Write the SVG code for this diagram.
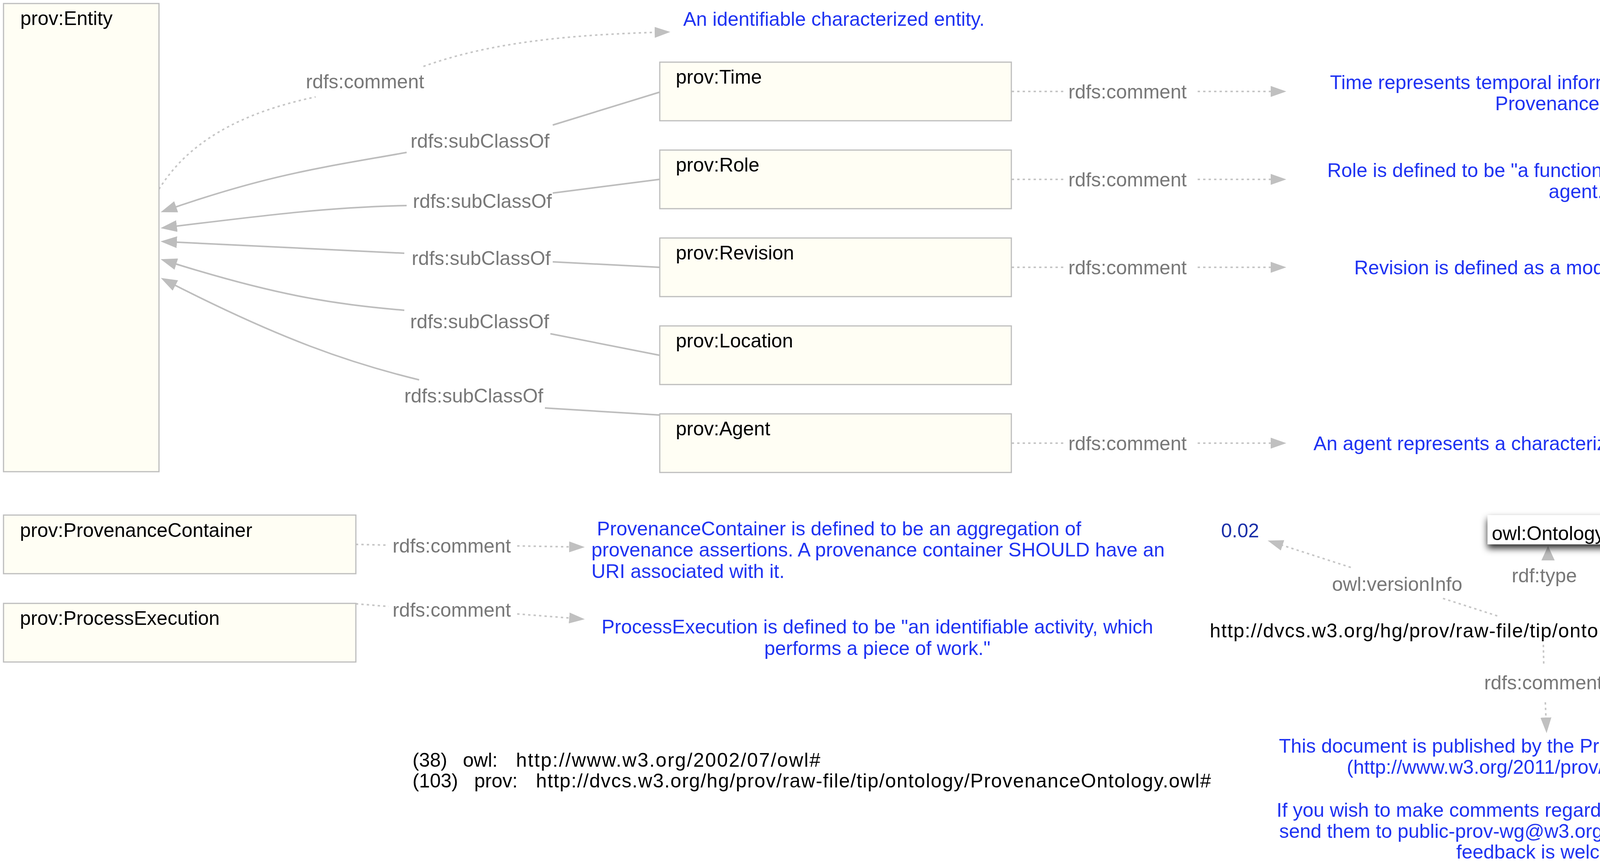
<svg xmlns="http://www.w3.org/2000/svg" width="4804" height="2216" viewBox="0 0 4804 2216">
<style>
text{font-family:"Liberation Sans",Arial,sans-serif;font-size:50px}
.box{fill:#fffef4;stroke:#bdbdbd;stroke-width:3}
.lbl{fill:#000}
.edge{fill:none;stroke:#bdbdbd;stroke-width:4}
.dot{fill:none;stroke:#c6c6c6;stroke-width:4;stroke-dasharray:6 8}
.elbl{fill:#787878}
.cmt{fill:#1f33f2}
.mid{text-anchor:middle}
</style>
<defs>
<marker id="ah" viewBox="0 0 42 30" refX="36" refY="15" markerWidth="42" markerHeight="30" markerUnits="userSpaceOnUse" orient="auto">
<path d="M0,0 L42,15 L0,30 z" fill="#bdbdbd"/>
</marker>
<marker id="ahd" viewBox="0 0 40 28" refX="34" refY="14" markerWidth="40" markerHeight="28" markerUnits="userSpaceOnUse" orient="auto">
<path d="M0,0 L40,14 L0,28 z" fill="#c0c0c0"/>
</marker>
<filter id="sh" x="-20%" y="-40%" width="140%" height="200%">
<feDropShadow dx="0" dy="10" stdDeviation="9" flood-color="#000" flood-opacity="0.85"/>
</filter>
<filter id="glow" x="-200%" y="-100%" width="500%" height="300%">
<feDropShadow dx="0" dy="6" stdDeviation="8" flood-color="#000" flood-opacity="0.35"/>
</filter>
</defs>
<rect width="4804" height="2216" fill="#fff"/>

<g id="connectors">
<path class="edge" d="M1688,236 L1415,320"/>
<path class="edge" d="M1041,390 C830,428 690,445 417,541" marker-end="url(#ah)"/>
<text class="elbl" x="1051" y="378">rdfs:subClassOf</text>
<path class="edge" d="M1688,459 L1415,494"/>
<path class="edge" d="M1041,526 C850,530 700,548 417,583" marker-end="url(#ah)"/>
<text class="elbl" x="1057" y="532">rdfs:subClassOf</text>
<path class="edge" d="M1688,684 L1415,670"/>
<path class="edge" d="M1035,648 L417,618" marker-end="url(#ah)"/>
<text class="elbl" x="1054" y="678">rdfs:subClassOf</text>
<path class="edge" d="M1688,909 L1409,854"/>
<path class="edge" d="M1035,794 C850,778 700,755 417,665" marker-end="url(#ah)"/>
<text class="elbl" x="1050" y="840">rdfs:subClassOf</text>
<path class="edge" d="M1688,1062 L1395,1044"/>
<path class="edge" d="M1073,972 C900,930 720,870 417,714" marker-end="url(#ah)"/>
<text class="elbl" x="1035" y="1030">rdfs:subClassOf</text>

<path class="dot" d="M407,484 C460,400 560,300 808,248"/>
<path class="dot" d="M1084,170 C1250,110 1450,88 1710,82" marker-end="url(#ahd)"/>
<text class="elbl" x="783" y="226">rdfs:comment</text>

<path class="dot" d="M2590,234 L2722,234"/>
<path class="dot" d="M3066,234 L3287,234" marker-end="url(#ahd)"/>
<text class="elbl" x="2735" y="252">rdfs:comment</text>
<path class="dot" d="M2590,459 L2722,459"/>
<path class="dot" d="M3066,459 L3287,459" marker-end="url(#ahd)"/>
<text class="elbl" x="2735" y="477">rdfs:comment</text>
<path class="dot" d="M2590,684 L2722,684"/>
<path class="dot" d="M3066,684 L3287,684" marker-end="url(#ahd)"/>
<text class="elbl" x="2735" y="702">rdfs:comment</text>
<path class="dot" d="M2590,1134 L2722,1134"/>
<path class="dot" d="M3066,1134 L3287,1134" marker-end="url(#ahd)"/>
<text class="elbl" x="2735" y="1152">rdfs:comment</text>

<path class="dot" d="M911,1393 L995,1395"/>
<path class="dot" d="M1324,1397 L1491,1400" marker-end="url(#ahd)"/>
<text class="elbl" x="1005" y="1414">rdfs:comment</text>
<path class="dot" d="M911,1545 L995,1552"/>
<path class="dot" d="M1324,1571 L1491,1584" marker-end="url(#ahd)"/>
<text class="elbl" x="1005" y="1578">rdfs:comment</text>

<path class="dot" d="M3833,1576 L3690,1530"/>
<path class="dot" d="M3458,1452 L3251,1385" marker-end="url(#ahd)"/>
<text class="elbl" x="3410" y="1512">owl:versionInfo</text>

<g filter="url(#glow)">
<path d="M3955,1523 L3955,1538" stroke="#bdbdbd" stroke-width="9" stroke-linecap="round" fill="none"/>
</g>
<path d="M3963,1397 L3980,1434 L3946,1434 z" fill="#bdbdbd"/>
<rect x="3860" y="1434" width="192" height="74" fill="#fff"/>
<text class="elbl" x="3870" y="1490">rdf:type</text>

<path class="dot" d="M3951,1650 L3952,1703"/>
<path class="dot" d="M3956,1797 L3959,1870" marker-end="url(#ahd)"/>
<text class="elbl mid" x="3951" y="1764">rdfs:comment</text>
</g>

<g id="node-entity">
<rect class="box" x="9" y="9" width="398" height="1198"/>
<text class="lbl" x="52" y="64">prov:Entity</text>
</g>
<g id="node-time">
<rect class="box" x="1689" y="159" width="900" height="150"/>
<text class="lbl" x="1730" y="214">prov:Time</text>
</g>
<g id="node-role">
<rect class="box" x="1689" y="384" width="900" height="150"/>
<text class="lbl" x="1730" y="439">prov:Role</text>
</g>
<g id="node-revision">
<rect class="box" x="1689" y="609" width="900" height="150"/>
<text class="lbl" x="1730" y="664">prov:Revision</text>
</g>
<g id="node-location">
<rect class="box" x="1689" y="834" width="900" height="150"/>
<text class="lbl" x="1730" y="889">prov:Location</text>
</g>
<g id="node-agent">
<rect class="box" x="1689" y="1059" width="900" height="150"/>
<text class="lbl" x="1730" y="1114">prov:Agent</text>
</g>
<g id="node-provcontainer">
<rect class="box" x="9" y="1318" width="902" height="150"/>
<text class="lbl" x="51" y="1374">prov:ProvenanceContainer</text>
</g>
<g id="node-procexec">
<rect class="box" x="9" y="1544" width="902" height="150"/>
<text class="lbl" x="51" y="1599">prov:ProcessExecution</text>
</g>

<g id="comment-entity"><text class="cmt" x="1749" y="66">An identifiable characterized entity.</text></g>
<g id="comment-time">
<text class="cmt mid" x="4043" y="228">Time represents temporal information about entities in the</text>
<text class="cmt mid" x="4043" y="282">Provenance model.</text>
</g>
<g id="comment-role">
<text class="cmt mid" x="4043" y="453">Role is defined to be "a function assumed by a entity or an</text>
<text class="cmt mid" x="4043" y="507">agent."</text>
</g>
<g id="comment-revision"><text class="cmt mid" x="4043" y="702">Revision is defined as a modified version of a Entity.</text></g>
<g id="comment-agent"><text class="cmt mid" x="4043" y="1152">An agent represents a characterized entity capable of activity.</text></g>
<g id="comment-provcontainer">
<text class="cmt" x="1528" y="1370">ProvenanceContainer is defined to be an aggregation of</text>
<text class="cmt" x="1514" y="1424">provenance assertions. A provenance container SHOULD have an</text>
<text class="cmt" x="1514" y="1479">URI associated with it.</text>
</g>
<g id="comment-procexec">
<text class="cmt mid" x="2246" y="1621">ProcessExecution is defined to be "an identifiable activity, which</text>
<text class="cmt mid" x="2246" y="1676">performs a piece of work."</text>
</g>

<g id="node-version"><text x="3126" y="1375" fill="#1a2fa8">0.02</text></g>
<g id="node-owl-ontology">
<rect x="3808" y="1318" width="313" height="75" fill="#fff" filter="url(#sh)"/>
<rect x="3808" y="1318" width="313" height="75" fill="#fff"/>
<text class="lbl" x="3819" y="1382">owl:Ontology</text>
</g>
<g id="node-ontology-uri">
<text class="lbl" x="3097" y="1631" textLength="1695" lengthAdjust="spacing">http://dvcs.w3.org/hg/prov/raw-file/tip/ontology/ProvenanceOntology.owl</text>
</g>
<g id="comment-ontology">
<text class="cmt mid" x="3967" y="1926">This document is published by the Provenance Working Group</text>
<text class="cmt mid" x="3967" y="1980">(http://www.w3.org/2011/prov/wiki/Main_Page).</text>
<text class="cmt mid" x="3967" y="2090">If you wish to make comments regarding this document, please</text>
<text class="cmt mid" x="3967" y="2144">send them to public-prov-wg@w3.org (subscribe, archives). All</text>
<text class="cmt mid" x="3967" y="2197">feedback is welcome.</text>
</g>

<g id="namespaces">
<text class="lbl" x="1056" y="1962">(38)</text>
<text class="lbl" x="1185" y="1962">owl:</text>
<text class="lbl" x="1321" y="1962" textLength="779" lengthAdjust="spacing">http://www.w3.org/2002/07/owl#</text>
<text class="lbl" x="1056" y="2015">(103)</text>
<text class="lbl" x="1214" y="2015">prov:</text>
<text class="lbl" x="1372" y="2015" textLength="1728" lengthAdjust="spacing">http://dvcs.w3.org/hg/prov/raw-file/tip/ontology/ProvenanceOntology.owl#</text>
</g>
</svg>
